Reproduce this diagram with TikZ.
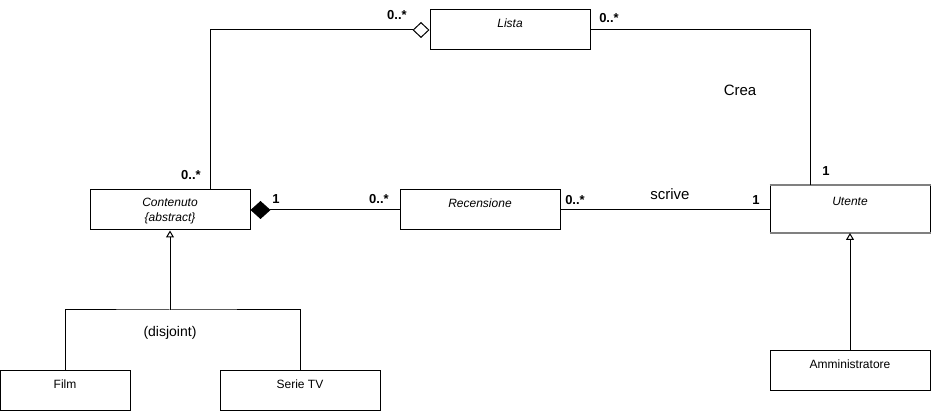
\documentclass[tikz,border=0pt]{standalone}
\usepackage{fontspec}
\setmainfont{Liberation Sans}
\usetikzlibrary{arrows.meta}

\begin{document}
\begin{tikzpicture}[
  x=1pt, y=-1pt,
  umlclass/.style={rectangle, draw, fill=white, inner sep=0pt,
                   minimum width=160pt, minimum height=40pt,
                   text height=18pt, text depth=22pt, align=center,
                   font=\fontsize{12}{15}\selectfont},
  mult/.style={inner sep=0pt, font=\bfseries\fontsize{13}{15}\selectfont},
  assoc/.style={inner sep=0pt, font=\fontsize{15}{17}\selectfont},
  gen/.style={-{Triangle[open,length=7pt,width=8pt]}},
  line width=1pt
]
  \useasboundingbox (0,0) rectangle (931,411);

  % Classes
  \node[umlclass] (lista) at (510,30) {\itshape Lista};
  \node[umlclass, text height=32pt, text depth=8pt] (contenuto) at (170,210)
       {\itshape Contenuto\\\itshape\{abstract\}};
  \node[umlclass] (recensione) at (480,210) {\itshape Recensione};
  \node[umlclass, minimum height=47pt,
        text height=20pt, text depth=27pt] (utente) at (850,209) {\itshape Utente};
  \draw[gray, line width=2pt] (utente.north west) -- (utente.north east)
                              (utente.south west) -- (utente.south east);
  \node[umlclass] (ammin) at (850,370.5) {Amministratore};
  \node[umlclass, minimum width=130pt] (film) at (65,390) {Film};
  \node[umlclass] (serie) at (300,390) {Serie TV};

  % Associations
  \draw[{Diamond[open,length=17pt,width=16pt]}-] (lista.west) -| ([xshift=40pt]contenuto.north);
  \draw (lista.east) -| ([xshift=-40pt]utente.north);
  \draw[{Diamond[length=20pt,width=18pt]}-] (contenuto.east) -- (recensione.west);
  \draw (recensione.east) -- (utente.west |- recensione.east);

  % Generalizations
  \coordinate (split) at (170,310);
  \draw[gen] (split) -- (contenuto.south);
  \draw (film.north) |- (split) -| (serie.north);
  \draw[gen] (ammin.north) -- (utente.south);

  % Multiplicities and names
  \node[mult] (mListaL) at (397,15) {0..*};
  \node[mult] (mListaR) at (609,18) {0..*};
  \node[mult] (mContL) at (191,175) {0..*};
  \node[mult] (mUtTop) at (826,171) {1};
  \node[mult] (mComp) at (276,199) {1};
  \node[mult] (mRecL) at (379,199) {0..*};
  \node[mult] (mRecR) at (575,200) {0..*};
  \node[mult] (mUtL) at (756,200) {1};
  \node[assoc] (crea) at (740,90) {Crea};
  \node[assoc] (scrive) at (670,194) {scrive};
  \node[assoc, font=\fontsize{14}{16}\selectfont] (disj) at (170,333) {(disjoint)};
\end{tikzpicture}
\end{document}
